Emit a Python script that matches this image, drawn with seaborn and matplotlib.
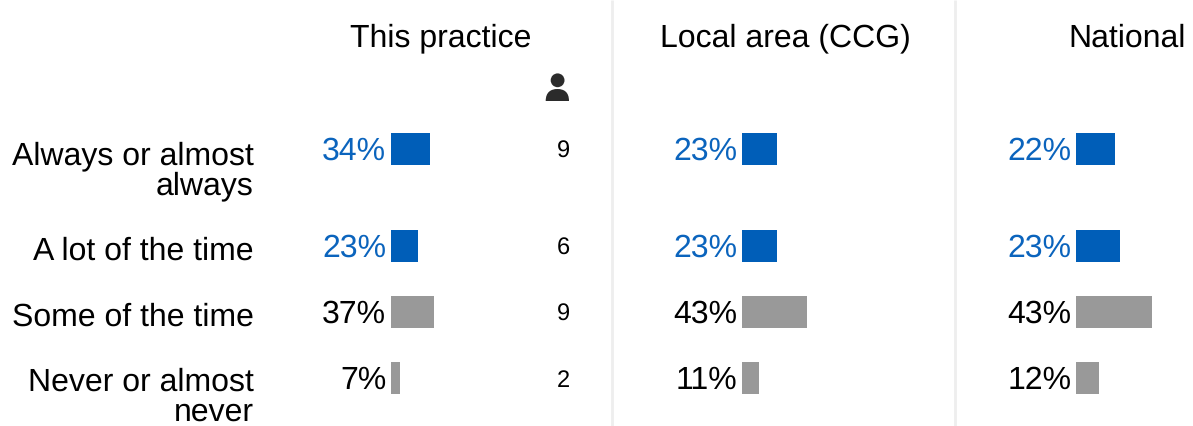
import matplotlib
matplotlib.use("Agg")
import matplotlib.pyplot as plt
from matplotlib.patches import Circle, PathPatch
from matplotlib.path import Path
import pandas as pd
import seaborn as sns

# data
categories = ["Always or almost\nalways", "A lot of the time", "Some of the time", "Never or almost\nnever"]
groups = ["positive", "positive", "neutral", "neutral"]
counts = [9, 6, 9, 2]
panel_titles = ["This practice", "Local area (CCG)", "National"]
practice_labels = [34, 23, 37, 7]
local_labels = [23, 23, 43, 11]
national_labels = [22, 23, 43, 12]
# bar lengths read off the picture, not quite the rounded labels
practice_bars = [34, 23.4, 37.3, 7.8]
local_bars = [23, 23, 43, 11.2]
national_bars = [22, 24.8, 43, 13]

# layout, in pixels of the 1193x426 picture
W, H = 1193, 426
row_y = [149, 246, 312, 378]
label_y = [171, 251.5, 317.5, 397.5]
panel_left = [391, 742, 1076]
panel_right = [612, 954, 1193]
px_per_pct = [1.155, 1.52, 1.77]
BLUE = "#005EB8"
BLUE_TEXT = "#0B64BD"
GREY = "#999999"

sns.set_theme(style="white")
plt.rcParams["font.family"] = ["Liberation Sans", "DejaVu Sans"]
plt.rcParams["text.hinting"] = "no_hinting"

fig = plt.figure(figsize=(W / 100, H / 100), dpi=100)
fig.patch.set_facecolor("white")

# overlay in pixel coordinates for headings, dividers, counts
over = fig.add_axes([0, 0, 1, 1])
over.set_xlim(0, W)
over.set_ylim(H, 0)
over.axis("off")

for x in [612, 955]:
    over.plot([x, x], [0, H], color="#EEEEEE", lw=2.0, solid_capstyle="butt")

for title, x in zip(panel_titles, [441, 785, 1127]):
    over.text(x, 35, title, ha="center", va="center_baseline", fontsize=23, color="black")

for y, label in zip(label_y, categories):
    over.text(253.5, y, label, ha="right", va="center", fontsize=23, color="black",
              linespacing=1.02)

for y, n in zip(row_y, counts):
    over.text(563, y + 3, str(n), ha="center", va="center", fontsize=17, color="black")

# person icon above the counts
over.add_patch(Circle((557.6, 80.3), 6.9, fc="#2B2B2B", ec="none"))
body = Path([(545.7, 101), (545.7, 92), (551, 89), (557.4, 89), (564, 89), (569, 92), (569, 101), (545.7, 101)],
            [Path.MOVETO, Path.CURVE4, Path.CURVE4, Path.CURVE4, Path.CURVE4, Path.CURVE4, Path.CURVE4, Path.CLOSEPOLY])
over.add_patch(PathPatch(body, fc="#2B2B2B", ec="none"))

panels = [(practice_bars, practice_labels), (local_bars, local_labels), (national_bars, national_labels)]
for i, (bars, labels) in enumerate(panels):
    left, right = panel_left[i], panel_right[i]
    ax = fig.add_axes([left / W, 0, (right - left) / W, 1])
    ax.patch.set_alpha(0)
    df = pd.DataFrame({"pct": bars, "row": row_y, "group": groups})
    sns.barplot(data=df, x="pct", y="row", hue="group", orient="h", native_scale=True,
                palette={"positive": BLUE, "neutral": GREY}, dodge=False, width=0.48,
                saturation=1, linewidth=0, legend=False, ax=ax)
    ax.set_xlim(0, (right - left) / px_per_pct[i])
    ax.set_ylim(H, 0)
    ax.axis("off")
    for y, val, grp in zip(row_y, labels, groups):
        col = BLUE_TEXT if grp == "positive" else "black"
        ax.annotate(f"{val}%", (0, y), xytext=(-3.5, -2.0), textcoords="offset points",
                    ha="right", va="center", fontsize=23, color=col, annotation_clip=False)

fig.savefig("out.png", dpi=100)
